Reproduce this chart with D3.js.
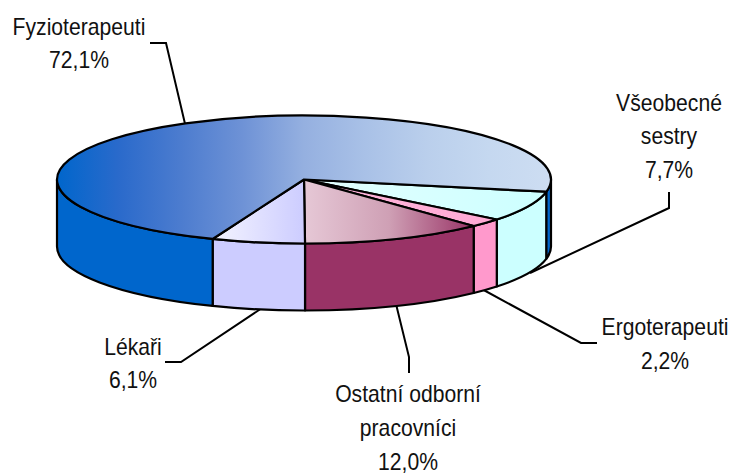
<!DOCTYPE html>
<html>
<head>
<meta charset="utf-8">
<script src="https://cdn.jsdelivr.net/npm/d3@7"></script>
<style>
  html, body { margin: 0; padding: 0; background: #fff; }
  text { font-family: "Liberation Sans", Arial, sans-serif; font-size: 23px; fill: #111; }
</style>
</head>
<body>
<svg id="chart"></svg>
<script>
// Data, clockwise from the right edge of the pie
const categories = [['Všeobecné', 'sestry'], ['Ergoterapeuti'], ['Ostatní odborní', 'pracovníci'], ['Lékaři'], ['Fyzioterapeuti']];
const values = [7.7, 2.2, 12.0, 6.1, 72.1];
const valueLabels = ['7,7%', '2,2%', '12,0%', '6,1%', '72,1%'];

// Colours of the walls and the gradient stops of the top faces
const wallColors = ['#CCFFFF', '#FF99CC', '#993366', '#CCCCFF', '#0066CC'];
const topStops = [
    ['#E4FFFF', '#CCFFFF'],
    ['#FFB8DC', '#FFA8D4'],
    ['#E6C8D6', '#CFA0B5', '#993366'],
    ['#F4F4FF', '#CCCCFF'],
    ['#0066CC', '#2A6ACB', '#4C7CCF', '#6E92D6', '#95B0E0', '#A9C1E7', '#BACFEC', '#C5D8F0', '#CDDDF2']
];

// Label centre x, first baseline y, and leader line points from text to pie
const labelX = [669, 665, 408, 133, 79];
const labelY = [110.5, 335, 402, 354.5, 34.5];
const leaders = [
    [[669, 192], [669, 208], [530, 273]],
    [[597, 343], [581, 343], [480, 288]],
    [[409, 373], [409, 357], [396, 304]],
    [[165, 362], [181, 362], [265, 306]],
    [[150, 43], [166, 43], [186, 128]]
];

const width = 731;
const height = 474;
const cx = 304;
const cy = 179.5;
const rx = 247;
const ry = 64;
const depth = 67;

let svg = d3.select('#chart')
    .attr('width', width)
    .attr('height', height)
    .style('display', 'block');

// Horizontal gradients for the top faces
let defs = svg.append('defs');
topStops.forEach((stops, i) => {
    let grad = defs.append('linearGradient')
        .attr('id', 'top' + i)
        .attr('x1', 0).attr('x2', 1).attr('y1', 0).attr('y2', 0);
    stops.forEach((c, j) => {
        grad.append('stop')
            .attr('offset', j / (stops.length - 1))
            .attr('stop-color', c);
    });
});

// Leader lines go first, the pie hides their inner ends
svg.append('g').selectAll('path')
    .data(leaders)
    .enter()
    .append('path')
    .attr('d', d3.line())
    .attr('fill', 'none')
    .attr('stroke', '#000')
    .attr('stroke-width', 2);

// Start angle leaves the last slice wrapping over the right edge
const start = 101 * Math.PI / 180;
let pie = d3.pie().sort(null).value(d => d)
    .startAngle(start).endAngle(start + 2 * Math.PI);
let slices = pie(values);

let arc = d3.arc().innerRadius(0).outerRadius(rx);

// Point on the rim for an angle measured clockwise from the top
const px = a => cx + rx * Math.sin(a);
const py = a => cy - ry * Math.cos(a);

function wallPath(a0, a1) {
    return 'M' + px(a0) + ',' + py(a0) +
        'A' + rx + ',' + ry + ' 0 0 1 ' + px(a1) + ',' + py(a1) +
        'L' + px(a1) + ',' + (py(a1) + depth) +
        'A' + rx + ',' + ry + ' 0 0 0 ' + px(a0) + ',' + (py(a0) + depth) + 'Z';
}

// Only the front half of the rim is visible, so clip each slice to it
const frontFrom = Math.PI / 2;
const frontTo = 3 * Math.PI / 2;
let walls = [];
slices.forEach((s, i) => {
    [0, 2 * Math.PI].forEach(shift => {
        let a0 = Math.max(s.startAngle - shift, frontFrom);
        let a1 = Math.min(s.endAngle - shift, frontTo);
        if (a1 > a0) walls.push({a0: a0, a1: a1, i: i});
    });
});

svg.append('g').selectAll('path')
    .data(walls)
    .enter()
    .append('path')
    .attr('d', d => wallPath(d.a0, d.a1))
    .attr('fill', d => wallColors[d.i])
    .attr('stroke', '#000')
    .attr('stroke-width', 2.2)
    .attr('stroke-linejoin', 'round');

// Top faces: a flat d3.arc squashed into the ellipse
svg.append('g')
    .attr('transform', 'translate(' + cx + ',' + cy + ') scale(1,' + (ry / rx) + ')')
    .selectAll('path')
    .data(slices)
    .enter()
    .append('path')
    .attr('d', arc)
    .attr('fill', (d, i) => 'url(#top' + i + ')')
    .attr('stroke', '#000')
    .attr('stroke-width', 2.2)
    .attr('stroke-linejoin', 'round')
    .attr('vector-effect', 'non-scaling-stroke');

// Labels, category lines then the value; the original type is a bit condensed
const lineHeight = 34;
const squeeze = 0.92;
categories.forEach((lines, i) => {
    let t = svg.append('text')
        .attr('text-anchor', 'middle')
        .attr('transform', 'translate(' + labelX[i] + ',' + labelY[i] + ') scale(' + squeeze + ',1)');
    lines.concat(valueLabels[i]).forEach((line, j) => {
        t.append('tspan')
            .attr('x', 0)
            .attr('y', j * lineHeight)
            .text(line);
    });
});
</script>
</body>
</html>
